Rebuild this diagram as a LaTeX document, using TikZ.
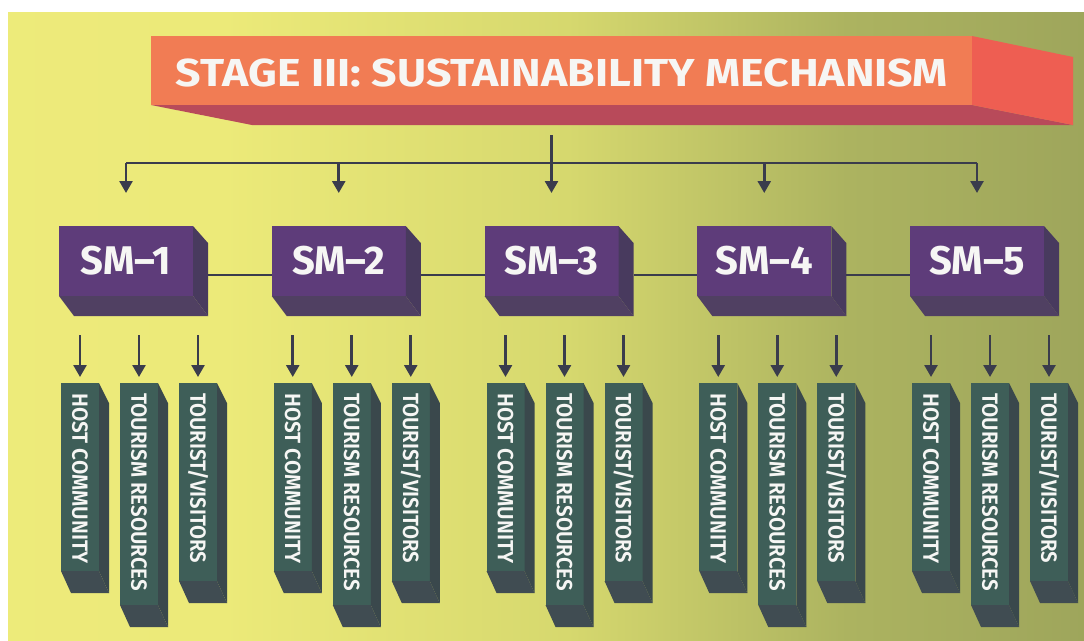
\documentclass[tikz,border=0pt]{standalone}
\usepackage{fontspec}
\setmainfont{Fira Sans}
\newfontfamily\barfont{Fira Sans SemiBold}
\usepackage{graphicx}
\usetikzlibrary{arrows.meta,calc}
\definecolor{bgA}{RGB}{239,236,126}
\definecolor{bgA2}{RGB}{236,234,121}
\definecolor{bgB}{RGB}{214,216,110}
\definecolor{bgC}{RGB}{172,179,96}
\definecolor{bgC2}{RGB}{148,156,88}
\definecolor{bgD}{RGB}{120,130,78}
\definecolor{banF}{RGB}{241,124,84}
\definecolor{banB}{RGB}{184,74,90}
\definecolor{banR}{RGB}{238,94,82}
\definecolor{smF}{RGB}{94,60,122}
\definecolor{smR}{RGB}{72,58,94}
\definecolor{smB}{RGB}{80,64,98}
\definecolor{barF}{RGB}{62,94,88}
\definecolor{barR}{RGB}{58,72,76}
\definecolor{barB}{RGB}{64,76,82}
\definecolor{conn}{RGB}{58,60,76}
\definecolor{txt}{RGB}{246,246,244}
\pgfdeclarehorizontalshading{bgshade}{100bp}{color(0bp)=(bgA); color(35bp)=(bgA2); color(51bp)=(bgB); color(64bp)=(bgC); color(83bp)=(bgC2); color(100bp)=(bgD)}
\tikzset{
 connline/.style={draw=conn, line width=2.6pt},
 arr/.style={connline, -{Triangle[length=12pt,width=13pt]}},
 smbox/.style={rectangle, fill=smF, inner sep=0pt, outer sep=0pt, minimum width=134pt, minimum height=70pt, text=txt, font=\fontsize{40}{40}\selectfont\bfseries},
 barbox/.style={rectangle, fill=barF, inner sep=0pt, outer sep=0pt, minimum width=38pt, anchor=north west},
 bartext/.style={text=txt, inner sep=0pt, rotate=-90, anchor=west, font=\fontsize{22}{22}\barfont},
 banbox/.style={rectangle, fill=banF, inner sep=0pt, outer sep=0pt, minimum width=821pt, minimum height=69pt, anchor=north west},
 bantext/.style={text=txt, inner sep=0pt, font=\fontsize{39}{39}\selectfont\bfseries},
}
\begin{document}
\begin{tikzpicture}[x=1pt,y=-1pt]
\useasboundingbox (0,0) rectangle (1084,640);
\fill[white] (0,0) rectangle (1084,640);
\shade[shading=bgshade] (8,12) rectangle (1084,640);

% banner
\node[banbox] (banner) at (151,36) {};
\fill[banB] (banner.south west) -- (banner.south east) -- ($(banner.south east)+(101,20)$) -- ($(banner.south west)+(101,20)$) -- cycle;
\fill[banR] (banner.north east) -- ($(banner.north east)+(101,21)$) -- ($(banner.south east)+(101,20)$) -- (banner.south east) -- cycle;
\node[bantext] (bantxt) at (562,73) {\resizebox{772pt}{\height}{STAGE III: SUSTAINABILITY MECHANISM}};

% SM boxes
\foreach \i in {1,...,5} {
  \pgfmathsetmacro\xx{59+212.75*(\i-1)}
  \node[smbox, anchor=north west] (sm\i) at (\xx,226) {SM–\i};
  \fill[smB] (sm\i.south west) -- (sm\i.south east) -- ($(sm\i.south east)+(15,20)$) -- ($(sm\i.south west)+(15,20)$) -- cycle;
  \fill[smR] (sm\i.north east) -- ($(sm\i.north east)+(15,17)$) -- ($(sm\i.south east)+(15,20)$) -- (sm\i.south east) -- cycle;
}
\foreach \i/\j in {1/2,2/3,3/4,4/5}
  \draw[connline] ($(sm\i.east)+(15,14)$) -- ($(sm\j.west)+(0,14)$);

% top bus
\coordinate (hub) at ($(sm3.north)+(0,-91)$);
\coordinate (bus) at ($(sm3.north)+(0,-63)$);
\draw[connline] (hub) -- (bus);
\draw[connline] (sm1.north |- bus) -- (sm5.north |- bus);
\foreach \i in {1,...,5}
  \draw[arr, shorten >=33pt] (sm\i.north |- bus) -- (sm\i.north);

% bars
\foreach \i in {1,...,5} {
  \foreach \j/\dx/\h/\w/\t in {1/2/188/170/{HOST COMMUNITY}, 2/61/222/198/{TOURISM RESOURCES}, 3/120/198/170/{TOURIST/VISITORS}} {
    \pgfmathsetmacro\bx{59+212.75*(\i-1)+\dx}
    \node[barbox, minimum height=\h pt] (b\i\j) at (\bx,383) {};
    \fill[barB] (b\i\j.south west) -- (b\i\j.south east) -- ($(b\i\j.south east)+(10,22)$) -- ($(b\i\j.south west)+(10,22)$) -- cycle;
    \fill[barR] (b\i\j.north east) -- ($(b\i\j.north east)+(10,20)$) -- ($(b\i\j.south east)+(10,22)$) -- (b\i\j.south east) -- cycle;
    \node[bartext] (t\i\j) at ($(b\i\j.north)+(0,10)$) {\resizebox{\w pt}{\height}{\t}};
    \draw[arr, shorten <=39pt, shorten >=6pt] (b\i\j.north |- sm\i.south) -- (b\i\j.north);
  }
}
\end{tikzpicture}
\end{document}
